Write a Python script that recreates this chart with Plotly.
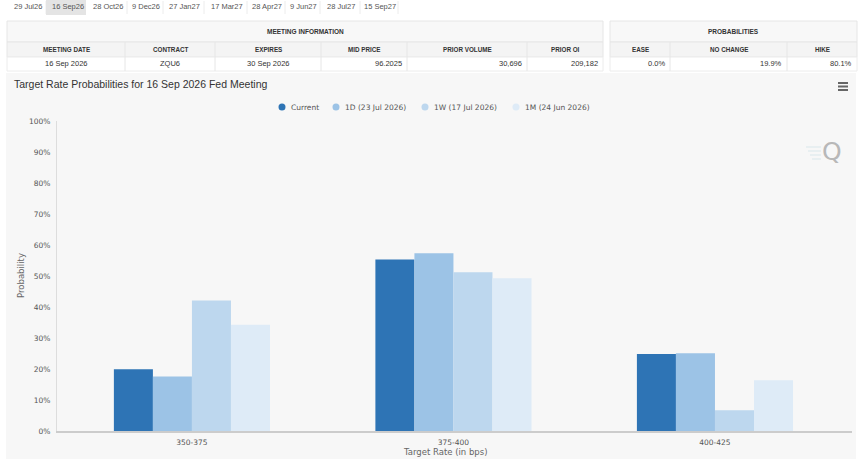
import plotly.graph_objects as go

W, H = 860, 459

# ---------------- data ----------------
categories = ["350-375", "375-400", "400-425"]
series_names = ["Current", "1D (23 Jul 2026)", "1W (17 Jul 2026)", "1M (24 Jun 2026)"]
current = [19.9, 55.3, 24.8]
one_day = [17.6, 57.3, 25.1]
one_week = [42.1, 51.2, 6.7]
one_month = [34.3, 49.3, 16.4]
series_values = [current, one_day, one_week, one_month]
series_colors = ["#2e74b5", "#9cc3e6", "#bdd7ee", "#deebf7"]

y_tick_vals = [0, 10, 20, 30, 40, 50, 60, 70, 80, 90, 100]
y_tick_text = ["0%", "10%", "20%", "30%", "40%", "50%", "60%", "70%", "80%", "90%", "100%"]

tabs = ["29 Jul26", "16 Sep26", "28 Oct26", "9 Dec26", "27 Jan27", "17 Mar27",
        "28 Apr27", "9 Jun27", "28 Jul27", "15 Sep27"]
selected_tab = "16 Sep26"

meeting_title = "MEETING INFORMATION"
meeting_headers = ["MEETING DATE", "CONTRACT", "EXPIRES", "MID PRICE", "PRIOR VOLUME", "PRIOR OI"]
meeting_values = ["16 Sep 2026", "ZQU6", "30 Sep 2026", "96.2025", "30,696", "209,182"]
prob_title = "PROBABILITIES"
prob_headers = ["EASE", "NO CHANGE", "HIKE"]
prob_values = ["0.0%", "19.9%", "80.1%"]

chart_title = "Target Rate Probabilities for 16 Sep 2026 Fed Meeting"

# ---------------- helpers ----------------
def px(x):
    return x / W

def py(y):
    return 1 - y / H

shapes = []
annotations = []

def rect(x0, y0, x1, y1, fill, line="rgba(0,0,0,0)", lw=0, layer="below"):
    shapes.append(dict(type="rect", xref="paper", yref="paper",
                       x0=px(x0), x1=px(x1), y0=py(y1), y1=py(y0),
                       fillcolor=fill, line=dict(color=line, width=lw), layer=layer))

def hline(x0, x1, y, color, lw=1, layer="below"):
    shapes.append(dict(type="line", xref="paper", yref="paper",
                       x0=px(x0), x1=px(x1), y0=py(y), y1=py(y),
                       line=dict(color=color, width=lw), layer=layer))

def vline(x, y0, y1, color, lw=1, layer="below"):
    shapes.append(dict(type="line", xref="paper", yref="paper",
                       x0=px(x), x1=px(x), y0=py(y0), y1=py(y1),
                       line=dict(color=color, width=lw), layer=layer))

def text(x, y, s, size=7, color="#333", family="Liberation Sans, Arial, sans-serif",
         xanchor="center", bold=False, angle=0):
    if bold:
        s = "<b>" + s + "</b>"
    annotations.append(dict(xref="paper", yref="paper", x=px(x), y=py(y), text=s,
                            showarrow=False, xanchor=xanchor, yanchor="middle",
                            textangle=angle,
                            font=dict(size=size, color=color, family=family)))

# ---------------- tabs ----------------
tab_edges = [7, 46, 87, 127, 163, 204, 247, 285, 320, 360, 398]
for i, t in enumerate(tabs):
    x0, x1 = tab_edges[i], tab_edges[i + 1]
    if t == selected_tab:
        rect(x0, 0, x1 - 1, 15, "#e4e4e4")
    else:
        vline(x1, 1, 14, "#ececec")
    text((x0 + x1) / 2 + 1, 7, t, size=7.5, color="#555")

# ---------------- meeting information table ----------------
mt_x = [7, 125, 215, 321, 407, 527, 603]
row_y = [21, 42, 57, 71]
rect(mt_x[0], row_y[0], mt_x[-1], row_y[1], "#f8f8f8", "#e6e6e6", 1)
rect(mt_x[0], row_y[1], mt_x[-1], row_y[2], "#f4f4f4", "#e6e6e6", 1)
rect(mt_x[0], row_y[2], mt_x[-1], row_y[3], "#ffffff", "#ececec", 1)
for xe in mt_x[1:-1]:
    vline(xe, row_y[1], row_y[3], "#e6e6e6")
text((mt_x[0] + mt_x[-1]) / 2, 31.5, meeting_title, size=6.5, color="#333", bold=True)
for i, h in enumerate(meeting_headers):
    text((mt_x[i] + mt_x[i + 1]) / 2, 49.5, h, size=6.3, color="#333", bold=True)
for i, v in enumerate(meeting_values):
    if i < 3:
        text((mt_x[i] + mt_x[i + 1]) / 2, 64, v, size=7.5, color="#333")
    else:
        text(mt_x[i + 1] - 3, 64, v, size=7.5, color="#333", xanchor="right")

# ---------------- probabilities table ----------------
pt_x = [610, 670, 787, 857]
rect(pt_x[0], row_y[0], pt_x[-1], row_y[1], "#f8f8f8", "#e6e6e6", 1)
rect(pt_x[0], row_y[1], pt_x[-1], row_y[2], "#f4f4f4", "#e6e6e6", 1)
rect(pt_x[0], row_y[2], pt_x[-1], row_y[3], "#ffffff", "#ececec", 1)
for xe in pt_x[1:-1]:
    vline(xe, row_y[1], row_y[3], "#e6e6e6")
text((pt_x[0] + pt_x[-1]) / 2, 31.5, prob_title, size=6.5, color="#333", bold=True)
for i, h in enumerate(prob_headers):
    text((pt_x[i] + pt_x[i + 1]) / 2, 49.5, h, size=6.3, color="#333", bold=True)
for i, v in enumerate(prob_values):
    text(pt_x[i + 1] - 3, 64, v, size=7.5, color="#333", xanchor="right")

# ---------------- chart panel ----------------
rect(6, 73, 856, 459, "#f7f7f7")
text(12, 84, chart_title, size=10.5, color="#333", xanchor="left")

# hamburger menu
for yy in [83, 86.5, 90]:
    hline(838, 848, yy, "#666666", lw=2, layer="above")

# Q watermark
text(832, 151, "Q", size=25, color="#b8b8b8", family="DejaVu Sans, sans-serif")
for k, yy in enumerate([147, 151, 155, 159]):
    hline(806 + k * 2, 821, yy, "rgba(190,215,225,0.5)", lw=1)

# legend (drawn manually)
legend_marker_x = [282, 336, 425, 516]
leg_font = "DejaVu Sans, Verdana, sans-serif"
for i, name in enumerate(series_names):
    cx = legend_marker_x[i]
    shapes.append(dict(type="circle", xref="paper", yref="paper",
                       x0=px(cx - 3.5), x1=px(cx + 3.5), y0=py(107 + 3.5), y1=py(107 - 3.5),
                       fillcolor=series_colors[i], line=dict(width=0), layer="above"))
    text(cx + 7, 107, name, size=7.5, color="#555", family=leg_font, xanchor="left")

# axis titles
text(445, 452, "Target Rate (in bps)", size=8.5, color="#666", family=leg_font)
text(21, 276, "Probability", size=8.5, color="#666", family=leg_font, angle=-90)

# ---------------- bars ----------------
fig = go.Figure()
for name, vals, col in zip(series_names, series_values, series_colors):
    fig.add_trace(go.Bar(x=categories, y=vals, name=name, marker=dict(color=col, line=dict(width=0)),
                         showlegend=False))

plot_x0, plot_x1 = 57, 852
plot_ytop, plot_ybot = 121, 431

fig.update_layout(
    width=W, height=H,
    margin=dict(l=0, r=0, t=0, b=0),
    paper_bgcolor="#ffffff",
    plot_bgcolor="#f7f7f7",
    barmode="group",
    bargap=0.403,
    bargroupgap=0,
    showlegend=False,
    shapes=shapes,
    annotations=annotations,
    font=dict(family=leg_font, color="#666"),
    xaxis=dict(domain=[px(plot_x0), px(plot_x1)], automargin=False,
               range=[-0.516, 2.524],
               showline=True, linecolor="#cccccc", linewidth=1.5,
               showgrid=False, ticks="", zeroline=False,
               tickfont=dict(size=7.5, color="#555", family=leg_font),
               ticklabelstandoff=3),
    yaxis=dict(domain=[py(plot_ybot), py(plot_ytop)], automargin=False,
               range=[0, 100], tickvals=y_tick_vals, ticktext=y_tick_text,
               showline=True, linecolor="#dddddd", linewidth=1,
               showgrid=False, zeroline=False, ticks="",
               tickfont=dict(size=7.5, color="#555", family=leg_font),
               ticklabelstandoff=4),
)

fig.write_html("out.html", config={"displayModeBar": False})
